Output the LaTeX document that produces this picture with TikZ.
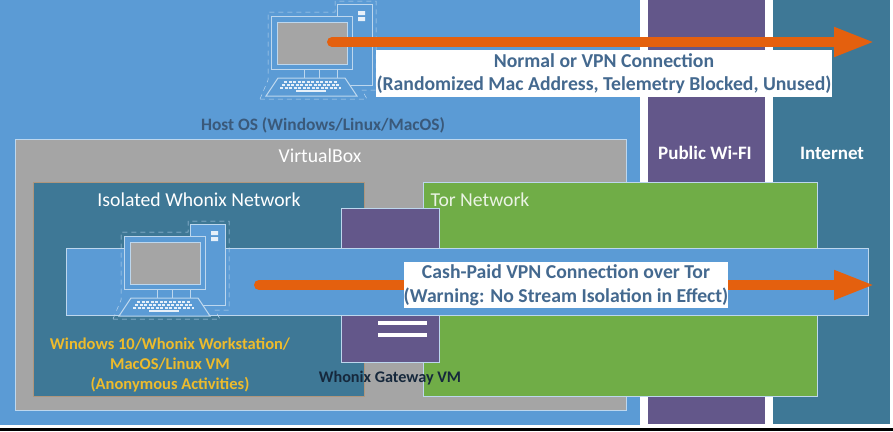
\documentclass[tikz,border=0pt]{standalone}
\usepackage{fontspec}
\setmainfont{Carlito}
\usetikzlibrary{positioning,arrows.meta}

\definecolor{hostblue}{HTML}{5B9BD5}
\definecolor{paleline}{HTML}{BDD7EE}
\definecolor{vboxgray}{HTML}{A5A5A5}
\definecolor{netteal}{HTML}{3E7896}
\definecolor{wifipurple}{HTML}{63578A}
\definecolor{torgreen}{HTML}{70AD47}
\definecolor{arroworange}{HTML}{E4600E}
\definecolor{vmyellow}{HTML}{EDBB2C}
\definecolor{labelblue}{HTML}{44698F}
\definecolor{gatewayink}{HTML}{16283C}

\tikzset{
  zone/.style={rectangle,inner sep=0pt,outer sep=0pt,anchor=north west},
  size/.style 2 args={minimum width=#1pt,minimum height=#2pt},
  edged/.style={zone,draw=paleline,line width=1pt},
  conn/.style={arroworange,line width=10pt,line cap=round,-{Triangle[length=41pt,width=27pt]}},
  whitelabel/.style={fill=white,text=labelblue,font=\fontsize{19.7}{23.5}\selectfont\bfseries,align=center,inner sep=0pt},
  heading/.style={inner sep=0pt,font=\fontsize{19.7}{22}\selectfont},
  boldheading/.style={inner sep=0pt,text=white,font=\fontsize{19}{22}\selectfont\bfseries},
  computer/.pic={
    \draw[paleline,line width=.5pt,dashed,dash pattern=on 5pt off 4pt]
      (260,99) -- (268,80) -- (268,12) -- (335,12) -- (335,1) -- (376,1)
      -- (376,90) -- (362,90) -- (367,99) -- cycle;
    \draw[paleline,fill=hostblue,line width=1pt] (337,4) rectangle (372,85);
    \fill[white!85!hostblue] (358,11) rectangle (365,15) (358,17) rectangle (365,21);
    \draw[paleline,line width=1pt] (304,69) -- (304,78) (319,69) -- (319,78) (337,69) -- (337,78);
    \draw[paleline,fill=hostblue,line width=1pt] (271,16) rectangle (352,69);
    \draw[paleline,fill=vboxgray,line width=1pt] (277,22) rectangle (347,64);
    \draw[paleline,fill=hostblue,line width=1pt] (278,78) -- (345,78) -- (357,96) -- (266,96) -- cycle;
    \foreach \row/\xa/\xb in {82/284/337,85/282/339,88/280/341} {
      \draw[white!85!hostblue,line width=2pt,dash pattern=on 3pt off 1.5pt] (\xa,\row) -- (\xb,\row);
    }
    \draw[white!85!hostblue,line width=2pt] (296,91) -- (326,91);
  }
}

\begin{document}
\begin{tikzpicture}[x=1pt,y=-1pt]

  \useasboundingbox (0,0) rectangle (893,431);

  % Zones

  \node[zone,size={640}{425},fill=hostblue] (host) at (0,0) {};
  \node[zone,size={117}{424},fill=wifipurple] (wifi) at (648,0) {};
  \node[zone,size={117}{424},fill=netteal] (internet) at (773,0) {};
  \node[zone,size={893}{3},fill=black] (strip) at (0,428) {};

  \node[edged,size={611}{271},fill=vboxgray] (vbox) at (15,139) {};
  \node[zone,draw=vboxgray!60!brown,line width=1pt,size={331}{214},fill=netteal] (whonix) at (33,182) {};
  \node[edged,size={394}{214},fill=torgreen] (tor) at (423,182) {};
  \node[edged,size={98}{154},fill=wifipurple] (gateway) at (341,208) {};
  \node[edged,size={802}{67},fill=hostblue] (band) at (66,248) {};
  \node[zone,size={49}{4},fill=white] (slota) at (378,321) {};
  \node[zone,size={49}{4},fill=white] (slotb) at (378,333) {};

  % Computers

  \pic (hostpc) at (0,0) {computer};
  \pic (vmpc) at (-147,220) {computer};

  % Connections

  \coordinate (hoststart) at (332,42);
  \coordinate (hosttip) at (875,42);
  \coordinate (vmstart) at (259,285);
  \coordinate (vmtip) at (875,285);

  \draw[conn] (hoststart) -- (hosttip);
  \draw[conn] (vmstart) -- (vmtip);

  % Labels

  \node[whitelabel,minimum width=456pt,minimum height=47pt] (hostlabel) at (604,73.5)
    {Normal or VPN Connection\\(Randomized Mac Address, Telemetry Blocked, Unused)};
  \node[whitelabel,minimum width=324pt,minimum height=46pt] (vmlabel) at (566,285)
    {Cash-Paid VPN Connection over Tor\\(Warning: No Stream Isolation in Effect)};

  \node[inner sep=0pt,text=labelblue!85!black,font=\fontsize{17.4}{20}\selectfont\bfseries] (hostname) at (323,125) {Host OS (Windows/Linux/MacOS)};
  \node[heading,text=white] (vboxname) at (320,156) {VirtualBox};
  \node[heading,text=white] (whonixname) at (199,200) {Isolated Whonix Network};
  \node[heading,text=white!85!torgreen] (torname) at (480,200) {Tor Network};
  \node[boldheading] (wifiname) at (705,153) {Public Wi-FI};
  \node[boldheading] (netname) at (832,153) {Internet};
  \node[inner sep=0pt,text=vmyellow,align=center,font=\fontsize{16.5}{20}\selectfont\bfseries] (vmname) at (170,365)
    {Windows 10/Whonix Workstation/\\MacOS/Linux VM\\(Anonymous Activities)};
  \node[inner sep=0pt,text=gatewayink,font=\fontsize{16.2}{18}\selectfont\bfseries] (gatewayname) at (390,378) {Whonix Gateway VM};

\end{tikzpicture}
\end{document}
